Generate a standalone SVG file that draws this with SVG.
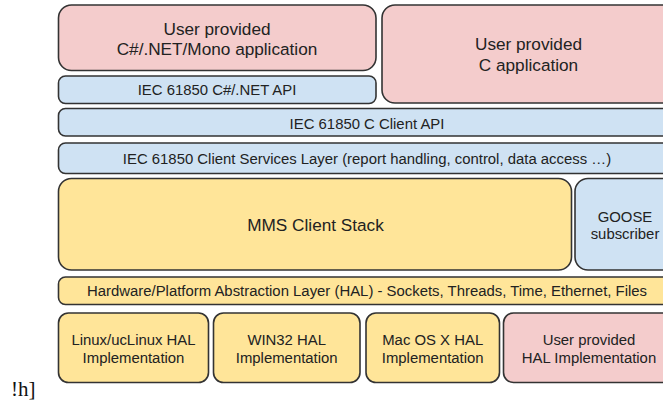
<svg xmlns="http://www.w3.org/2000/svg" width="663" height="402" viewBox="0 0 663 402">
  <style>
    .box { stroke: #333333; stroke-width: 1.6; }
    .user { fill: #f4cccc; }
    .api { fill: #cfe2f3; }
    .core { fill: #ffe599; }
    text { font-family: "Liberation Sans", Arial, sans-serif; fill: #222222; text-anchor: middle; }
    .big { font-size: 17.2px; }
    .mid { font-size: 14.9px; }
    .note { font-family: "Liberation Serif", "Times New Roman", serif; font-size: 21px; text-anchor: start; fill: #111111; }
  </style>
  <rect width="663" height="402" fill="#ffffff"/>

  <!-- application layer -->
  <g id="csharp-app">
    <rect class="box user" x="58.5" y="5" width="317.5" height="65.5" rx="13"/>
    <text class="big" x="217" y="35">User provided</text>
    <text class="big" x="217" y="55">C#/.NET/Mono application</text>
  </g>
  <g id="c-app">
    <rect class="box user" x="382" y="5" width="295" height="98" rx="13"/>
    <text class="big" x="528.5" y="50">User provided</text>
    <text class="big" x="528.5" y="71">C application</text>
  </g>

  <!-- API layers -->
  <g id="csharp-api">
    <rect class="box api" x="58.5" y="76" width="317.5" height="27.5" rx="7"/>
    <text class="mid" x="217" y="94.5">IEC 61850 C#/.NET API</text>
  </g>
  <g id="c-client-api">
    <rect class="box api" x="58.5" y="108.5" width="618" height="27.5" rx="7"/>
    <text class="mid" x="367" y="128.5">IEC 61850 C Client API</text>
  </g>
  <g id="client-services">
    <rect class="box api" x="58.5" y="143" width="618" height="30.5" rx="7"/>
    <text class="mid" x="367" y="163.5">IEC 61850 Client Services Layer (report handling, control, data access …)</text>
  </g>

  <!-- protocol stacks -->
  <g id="mms-client">
    <rect class="box core" x="58.5" y="178.5" width="513" height="91.5" rx="13"/>
    <text class="big" x="315.5" y="231">MMS Client Stack</text>
  </g>
  <g id="goose-subscriber">
    <rect class="box api" x="575" y="178.5" width="102" height="91.5" rx="13"/>
    <text class="mid" x="625" y="221.5">GOOSE</text>
    <text class="mid" x="625" y="239">subscriber</text>
  </g>

  <!-- platform abstraction -->
  <g id="hal">
    <rect class="box core" x="58.5" y="277" width="618" height="27.5" rx="7"/>
    <text class="mid" x="367" y="296">Hardware/Platform Abstraction Layer (HAL) - Sockets, Threads, Time, Ethernet, Files</text>
  </g>

  <!-- HAL implementations -->
  <g id="hal-linux">
    <rect class="box core" x="58.5" y="313" width="150" height="69.5" rx="10"/>
    <text class="mid" x="133.5" y="345">Linux/ucLinux HAL</text>
    <text class="mid" x="133.5" y="362.5">Implementation</text>
  </g>
  <g id="hal-win32">
    <rect class="box core" x="213.5" y="313" width="146.5" height="69.5" rx="10"/>
    <text class="mid" x="286.7" y="345">WIN32 HAL</text>
    <text class="mid" x="286.7" y="362.5">Implementation</text>
  </g>
  <g id="hal-macos">
    <rect class="box core" x="366" y="313" width="133.5" height="69.5" rx="10"/>
    <text class="mid" x="432.7" y="345">Mac OS X HAL</text>
    <text class="mid" x="432.7" y="362.5">Implementation</text>
  </g>
  <g id="hal-user">
    <rect class="box user" x="503.5" y="313" width="173" height="69.5" rx="10"/>
    <text class="mid" x="589" y="345">User provided</text>
    <text class="mid" x="589" y="362.5">HAL Implementation</text>
  </g>

  <g id="connectors"></g>

  <text class="note" x="11" y="396">!h]</text>
</svg>
